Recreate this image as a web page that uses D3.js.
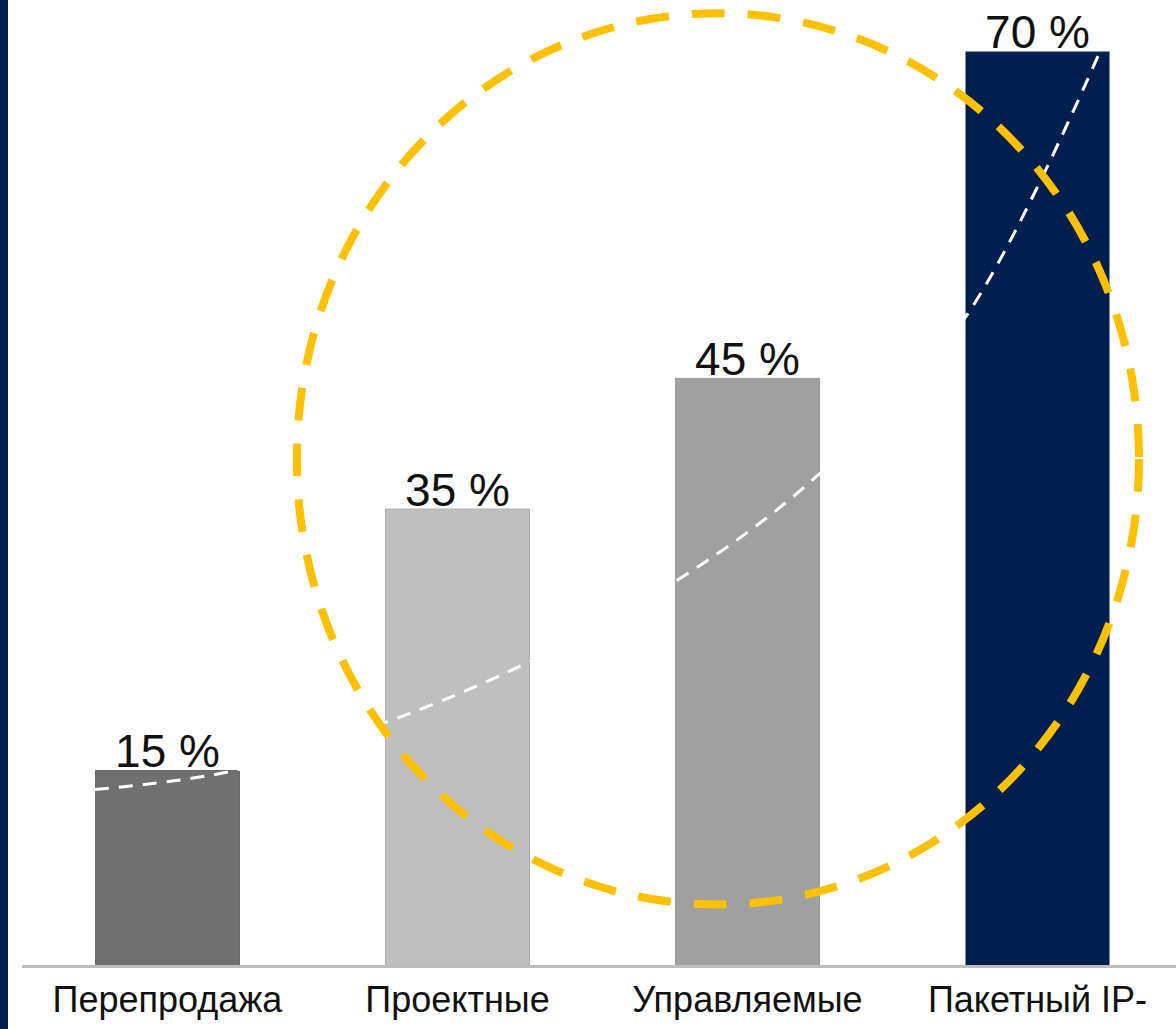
<!DOCTYPE html>
<html>
<head>
<meta charset="utf-8">
<script src="https://cdn.jsdelivr.net/npm/d3@7/dist/d3.min.js"></script>
<style>
html,body{margin:0;padding:0;background:#fff;}
svg{display:block;}
</style>
</head>
<body>
<svg id="chart" width="1176" height="1029"></svg>
<script>
const categories = ["Перепродажа", "Проектные", "Управляемые", "Пакетный IP-"];
const values = [15, 35, 45, 70];
const valueLabels = ["15 %", "35 %", "45 %", "70 %"];
const barColors = ["#707070", "#bfbfbf", "#a0a0a0", "#001f4f"];
const barStrokes = ["#6a6a6a", "#adadad", "#9a9a9a", "#8a8f99"];
// trend curve: [position in category units, value %]
const trendX = [0.25, 0.72, 1.26, 1.75, 2.25, 2.73, 3.25, 3.72];
const trendY = [13.5, 14.9, 18.7, 23.3, 29.4, 37.3, 49.6, 70.2];
// highlight ellipse: [centre position in category units, centre value %, half-width in category units, half-height in %]
const ellipseSpec = [2.398, 38.8, 1.452, 34.1];

const svg = d3.select("#chart");
const W = 1176, H = 1029;
const baseY = 966, pxPerPct = 13.07;

const x = d3.scaleBand().domain(categories).range([22.5, 1182.5]).paddingInner(0.5).paddingOuter(0.25);
const xc = d3.scaleLinear().domain([0, 4]).range([22.5, 1182.5]);
const y = d3.scaleLinear().domain([0, 100]).range([baseY, baseY - 100 * pxPerPct]);

// left strip
svg.append("rect").attr("x", 0).attr("y", 0).attr("width", 8).attr("height", H).attr("fill", "#002050");

// clip for trend line
const defs = svg.append("defs");
const clip = defs.append("clipPath").attr("id", "barsClip");
clip.selectAll("rect").data(values).join("rect")
  .attr("x", (d, i) => x(categories[i]))
  .attr("y", d => y(d))
  .attr("width", x.bandwidth())
  .attr("height", d => baseY - y(d));

// bars
svg.append("g").selectAll("rect").data(values).join("rect")
  .attr("x", (d, i) => x(categories[i]) + 0.5)
  .attr("y", d => y(d) + 0.5)
  .attr("width", x.bandwidth() - 1)
  .attr("height", d => baseY - y(d) - 0.5)
  .attr("fill", (d, i) => barColors[i])
  .attr("stroke", (d, i) => barStrokes[i])
  .attr("stroke-width", 1);

// baseline
svg.append("line").attr("x1", 22).attr("x2", W).attr("y1", baseY + 0.5).attr("y2", baseY + 0.5)
  .attr("stroke", "#bdbdbd").attr("stroke-width", 3);

// trend line
const trend = trendX.map((t, i) => [t, trendY[i]]);
const line = d3.line().x(d => xc(d[0])).y(d => y(d[1])).curve(d3.curveCatmullRom);
svg.append("path").datum(trend)
  .attr("d", line)
  .attr("fill", "none")
  .attr("stroke", "#ffffff")
  .attr("stroke-width", 3)
  .attr("stroke-dasharray", "14 10")
  .attr("clip-path", "url(#barsClip)");

// dashed ellipse
const [ecx, ecy, erx, ery] = ellipseSpec;
svg.append("ellipse")
  .attr("cx", xc(ecx))
  .attr("cy", y(ecy))
  .attr("rx", xc(erx) - xc(0))
  .attr("ry", y(0) - y(ery))
  .attr("fill", "none")
  .attr("stroke", "#ffc000")
  .attr("stroke-width", 8)
  .attr("stroke-dasharray", "33 23");

// value labels
svg.append("g").selectAll("text").data(values).join("text")
  .attr("x", (d, i) => x(categories[i]) + x.bandwidth() / 2)
  .attr("y", d => y(d) - 3)
  .attr("text-anchor", "middle")
  .attr("font-family", "Liberation Sans, Arial, sans-serif")
  .attr("font-size", 46)
  .attr("fill", "#111")
  .text((d, i) => valueLabels[i]);

// category labels
svg.append("g").selectAll("text").data(categories).join("text")
  .attr("x", d => x(d) + x.bandwidth() / 2)
  .attr("y", 1012)
  .attr("text-anchor", "middle")
  .attr("font-family", "Liberation Sans, Arial, sans-serif")
  .attr("font-size", 36)
  .attr("fill", "#111")
  .text(d => d);
</script>
</body>
</html>
